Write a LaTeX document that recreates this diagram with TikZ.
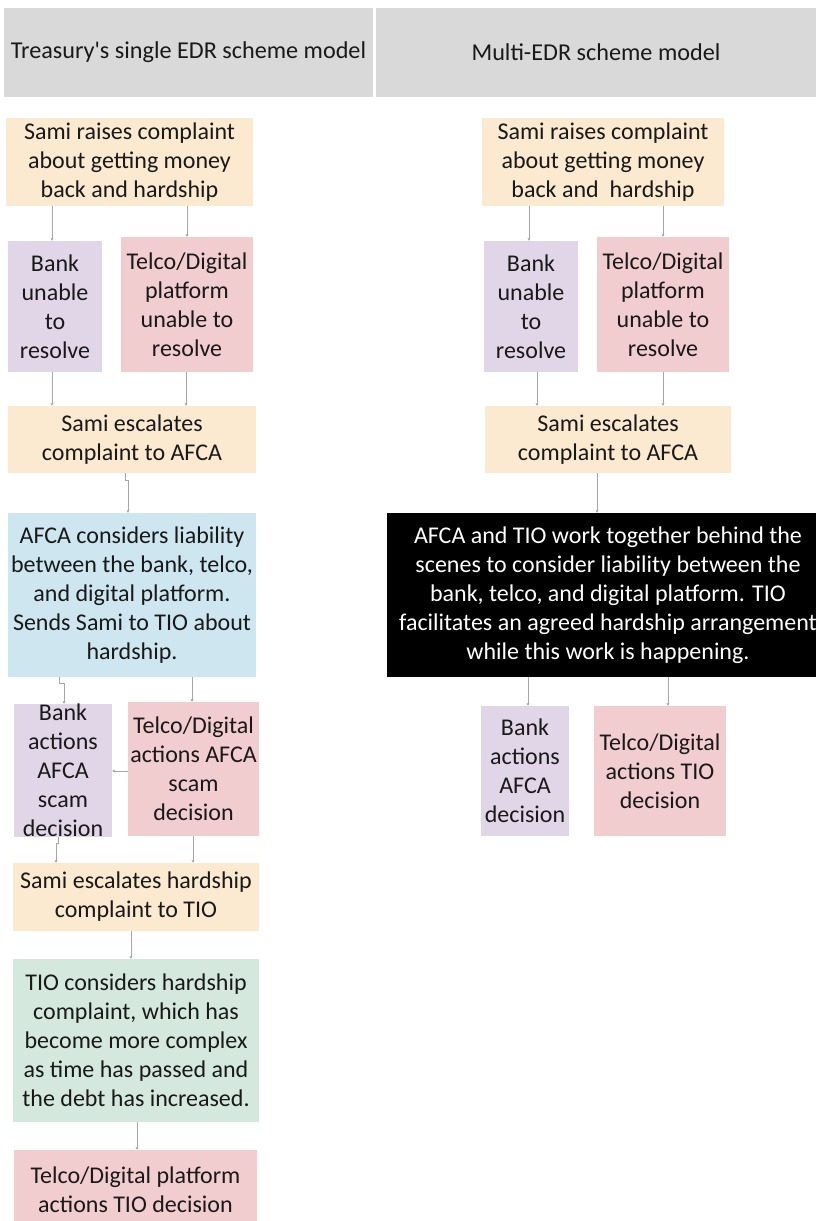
\documentclass[tikz,border=0pt]{standalone}
\usepackage{fontspec}
\setmainfont{Carlito}
\usetikzlibrary{arrows.meta}
\definecolor{hdr}{HTML}{D9D9D9}
\definecolor{beige}{HTML}{FBE9D0}
\definecolor{lilac}{HTML}{E0D6E8}
\definecolor{rose}{HTML}{F2CDCF}
\definecolor{sky}{HTML}{CDE6F0}
\definecolor{mint}{HTML}{D5E8DE}
\definecolor{conncol}{HTML}{A6A6A6}
\begin{document}
\begin{tikzpicture}[x=1pt,y=-1pt,
  box/.style={draw=none, inner xsep=0pt, inner ysep=0pt, align=center,
    font=\fontsize{24}{29}\selectfont, text=black!90},
  hbox/.style={box, fill=hdr, font=\fontsize{24.2}{29}\selectfont},
  conn/.style={draw=conncol, line width=0.6pt, -{Stealth[length=3pt,width=3pt]}}]
\useasboundingbox (0,0) rectangle (816,1221);
\clip (0,0) rectangle (816,1221);
% headers
\node[hbox, minimum width=369, minimum height=89] (hl) at (188.5,52.5) {Treasury\textquotesingle s single EDR scheme model};
\node[hbox, minimum width=440, minimum height=89] (hr) at (596,52.5) {Multi-EDR scheme model};
% left column
\node[box, fill=beige, minimum width=247, minimum height=88] (l1) at (129.5,162) {Sami raises complaint\\about getting money\\back and hardship};
\node[box, fill=lilac, minimum width=94, minimum height=131] (l2) at (55,306.5) {Bank\\unable\\to\\resolve};
\node[box, fill=rose, minimum width=132, minimum height=135] (l3) at (187,304.5) {Telco/Digital\\platform\\unable to\\resolve};
\node[box, fill=beige, minimum width=248, minimum height=67] (l4) at (132,439.5) {Sami escalates\\complaint to AFCA};
\node[box, fill=sky, minimum width=248, minimum height=164] (l5) at (132,595) {AFCA considers liability\\between the bank, telco,\\and digital platform.\\Sends Sami to TIO about\\hardship.};
\node[box, fill=lilac, minimum width=98, minimum height=133] (l6) at (63,770.5) {Bank\\actions\\AFCA\\scam\\decision};
\node[box, fill=rose, minimum width=131, minimum height=134] (l7) at (193.5,769) {Telco/Digital\\actions AFCA\\scam\\decision};
\node[box, fill=beige, minimum width=246, minimum height=68] (l8) at (136,897) {Sami escalates hardship\\complaint to TIO};
\node[box, fill=mint, minimum width=246, minimum height=163] (l9) at (136,1040.5) {TIO considers hardship\\complaint, which has\\become more complex\\as time has passed and\\the debt has increased.};
\node[box, fill=rose, minimum width=243, minimum height=80] (l10) at (135.5,1190) {Telco/Digital platform\\actions TIO decision};
% right column
\node[box, fill=beige, minimum width=242, minimum height=88] (r1) at (603,162) {Sami raises complaint\\about getting money\\back and\ \ hardship};
\node[box, fill=lilac, minimum width=94, minimum height=131] (r2) at (531,306.5) {Bank\\unable\\to\\resolve};
\node[box, fill=rose, minimum width=132, minimum height=135] (r3) at (663,304.5) {Telco/Digital\\platform\\unable to\\resolve};
\node[box, fill=beige, minimum width=246, minimum height=67] (r4) at (608,439.5) {Sami escalates\\complaint to AFCA};
\node[box, fill=black, text=white, minimum width=442, minimum height=164] (r5) at (608,595) {AFCA and TIO work together behind the\\scenes to consider liability between the\\bank, telco, and digital platform. TIO\\facilitates an agreed hardship arrangement\\while this work is happening.};
\node[box, fill=lilac, minimum width=88, minimum height=130] (r6) at (525,771) {Bank\\actions\\AFCA\\decision};
\node[box, fill=rose, minimum width=132, minimum height=130] (r7) at (660,771) {Telco/Digital\\actions TIO\\decision};
% helper x positions
\foreach \xx in {52,56,58,59,64,125,128,131,137,186,187,192,193,528,529,537,597,663,668}
  \coordinate (x\xx) at (\xx,0);
% left connectors
\draw[conn] (l1.south -| x52) -- (l2.north -| x52);
\draw[conn] (l1.south -| x187) -- (l3.north -| x187);
\draw[conn] (l2.south -| x52) -- (l4.north -| x52);
\draw[conn] (l3.south -| x186) -- (l4.north -| x186);
\draw[conn] (l4.south -| x125) -- ++(0,7) -| (l5.north -| x128);
\draw[conn] (l5.south -| x59) -- ++(0,6) -| (l6.north -| x64);
\draw[conn] (l5.south -| x192) -- (l7.north -| x192);
\draw[conn] (l7.west |- 0,771) -- (l6.east |- 0,771);
\draw[conn] (l6.south -| x58) -- ++(0,6) -| (l8.north -| x56);
\draw[conn] (l7.south -| x193) -- (l8.north -| x193);
\draw[conn] (l8.south -| x131) -- (l9.north -| x131);
\draw[conn] (l9.south -| x137) -- (l10.north -| x137);
% right connectors
\draw[conn] (r1.south -| x529) -- (r2.north -| x529);
\draw[conn] (r1.south -| x663) -- (r3.north -| x663);
\draw[conn] (r2.south -| x537) -- (r4.north -| x537);
\draw[conn] (r3.south -| x663) -- (r4.north -| x663);
\draw[conn] (r4.south -| x597) -- (r5.north -| x597);
\draw[conn] (r5.south -| x528) -- (r6.north -| x528);
\draw[conn] (r5.south -| x668) -- (r7.north -| x668);
\end{tikzpicture}
\end{document}
